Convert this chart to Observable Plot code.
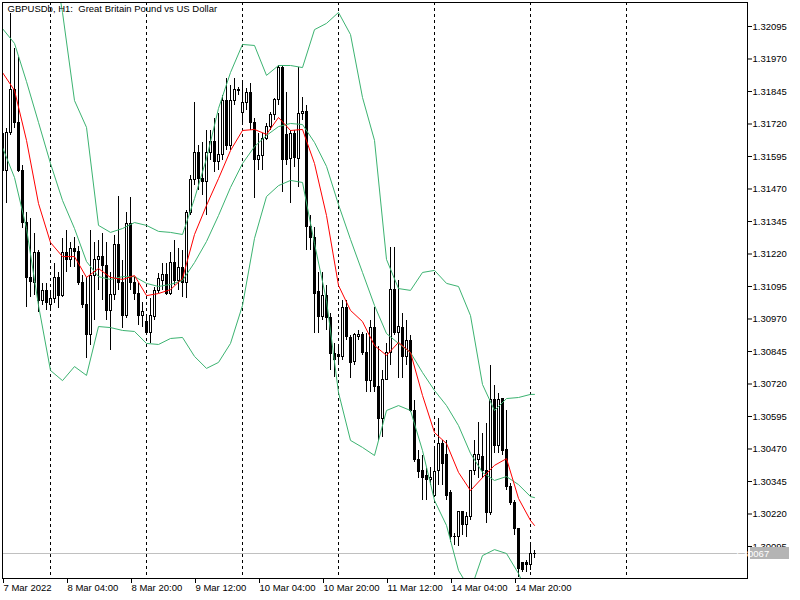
<!DOCTYPE html>
<html><head><meta charset="utf-8">
<script src="https://cdn.jsdelivr.net/npm/d3@7"></script>
<script src="https://cdn.jsdelivr.net/npm/@observablehq/plot@0.6"></script>
<style>
body{margin:0;background:#fff;}
#chart svg{display:block;}
</style></head><body><div id="chart"></div>
<script>
const title = "GBPUSDb, H1:  Great Britain Pound vs US Dollar";
const lastPrice = 1.30067;

// hourly bars (index 0 = 7 Mar 2022 12:00; weekend removed)
const open = [
1.31683,1.31541,1.31687,1.31849,1.31722,1.31541,1.31341,1.31126,1.31110,1.31222,
1.31041,1.31076,1.31022,1.31045,1.31126,1.31060,1.31222,1.31195,1.31241,1.31226,
1.31107,1.31022,1.30907,1.31137,1.31195,1.31210,1.31172,1.30999,1.31064,1.31253,
1.31107,1.30983,1.31337,1.31107,1.31068,1.30983,1.30957,1.30918,1.30976,1.31076,
1.31118,1.31141,1.31068,1.31187,1.31118,1.31168,1.31110,1.31376,1.31503,1.31610,
1.31510,1.31495,1.31607,1.31649,1.31572,1.31599,1.31810,1.31637,1.31810,1.31849,
1.31764,1.31799,1.31841,1.31722,1.31580,1.31595,1.31664,1.31707,1.31753,1.31814,
1.31937,1.31676,1.31587,1.31680,1.31587,1.31760,1.31768,1.31322,1.31283,1.31072,
1.30976,1.31060,1.30972,1.30837,1.30830,1.30822,1.31014,1.30895,1.30803,1.30899,
1.30907,1.30841,1.30733,1.30937,1.30707,1.30587,1.30737,1.30841,1.31080,1.30918,
1.30937,1.30822,1.30887,1.30618,1.30426,1.30387,1.30368,1.30349,1.30291,1.30387,
1.30491,1.30445,1.30299,1.30133,1.30130,1.30226,1.30176,1.30207,1.30387,1.30426,
1.30441,1.30387,1.30222,1.30657,1.30483,1.30664,1.30468,1.30322,1.30264,1.30164,
1.30030,1.30033,1.30022,1.30068];
const high = [
1.31733,1.31703,1.32145,1.32010,1.31976,1.31560,1.31380,1.31357,1.31299,1.31233,
1.31107,1.31107,1.31068,1.31183,1.31149,1.31280,1.31310,1.31264,1.31283,1.31249,
1.31137,1.31130,1.31310,1.31264,1.31272,1.31299,1.31264,1.31149,1.31291,1.31441,
1.31195,1.31380,1.31437,1.31130,1.31107,1.31033,1.30976,1.31049,1.31091,1.31145,
1.31183,1.31183,1.31226,1.31272,1.31241,1.31233,1.31387,1.31522,1.31803,1.31637,
1.31649,1.31695,1.31695,1.31741,1.31760,1.31830,1.31895,1.31868,1.31895,1.31860,
1.31876,1.31857,1.31876,1.31741,1.31683,1.31683,1.31722,1.31764,1.31818,1.31945,
1.31945,1.31841,1.31695,1.31695,1.31937,1.31822,1.31791,1.31368,1.31322,1.31149,
1.31149,1.31099,1.30991,1.30876,1.30868,1.31041,1.31041,1.30907,1.30914,1.30926,
1.30918,1.30914,1.30964,1.31014,1.30864,1.30772,1.30876,1.31245,1.31245,1.31118,
1.30991,1.30964,1.30907,1.30657,1.30464,1.30445,1.30395,1.30399,1.30480,1.30587,
1.30503,1.30503,1.30310,1.30145,1.30226,1.30226,1.30226,1.30387,1.30503,1.30572,
1.30530,1.30568,1.30791,1.30714,1.30683,1.30664,1.30618,1.30337,1.30272,1.30164,
1.30030,1.30041,1.30110,1.30080];
const low = [
1.31533,1.31414,1.31676,1.31703,1.31533,1.31318,1.31014,1.31053,1.31060,1.30995,
1.31022,1.31003,1.31010,1.31030,1.31010,1.31053,1.31149,1.31168,1.31168,1.31099,
1.31010,1.30818,1.30868,1.30964,1.31080,1.31041,1.30964,1.30849,1.31041,1.31080,
1.30933,1.30972,1.31080,1.31041,1.30945,1.30937,1.30907,1.30876,1.30964,1.31068,
1.31080,1.31060,1.31060,1.31099,1.31080,1.31053,1.31049,1.31368,1.31483,1.31464,
1.31445,1.31368,1.31580,1.31533,1.31541,1.31580,1.31618,1.31618,1.31791,1.31830,
1.31714,1.31772,1.31695,1.31433,1.31541,1.31541,1.31657,1.31695,1.31733,1.31791,
1.31457,1.31560,1.31414,1.31553,1.31476,1.31733,1.31233,1.31233,1.30914,1.30914,
1.30964,1.30926,1.30772,1.30745,1.30803,1.30810,1.30887,1.30741,1.30791,1.30887,
1.30830,1.30687,1.30687,1.30687,1.30503,1.30514,1.30733,1.30791,1.30907,1.30741,
1.30741,1.30791,1.30610,1.30418,1.30357,1.30272,1.30272,1.30330,1.30283,1.30330,
1.30330,1.30272,1.30110,1.30099,1.30095,1.30137,1.30130,1.30195,1.30368,1.30357,
1.30357,1.30183,1.30214,1.30453,1.30453,1.30445,1.30310,1.30253,1.30137,1.29975,
1.29995,1.29995,1.30003,1.30049];
const close = [
1.31541,1.31687,1.31849,1.31722,1.31541,1.31341,1.31126,1.31114,1.31222,1.31041,
1.31076,1.31030,1.31045,1.31126,1.31060,1.31222,1.31195,1.31241,1.31226,1.31107,
1.31022,1.30907,1.31137,1.31195,1.31210,1.31172,1.30999,1.31064,1.31253,1.31107,
1.30983,1.31337,1.31107,1.31068,1.30983,1.30995,1.30918,1.30980,1.31076,1.31122,
1.31141,1.31068,1.31187,1.31118,1.31168,1.31110,1.31376,1.31503,1.31610,1.31510,
1.31495,1.31607,1.31649,1.31572,1.31599,1.31810,1.31637,1.31810,1.31849,1.31845,
1.31799,1.31841,1.31722,1.31580,1.31595,1.31664,1.31707,1.31753,1.31814,1.31937,
1.31580,1.31580,1.31680,1.31591,1.31760,1.31768,1.31322,1.31283,1.31068,1.30976,
1.31060,1.30972,1.30837,1.30814,1.30822,1.31014,1.30899,1.30799,1.30907,1.30907,
1.30841,1.30733,1.30937,1.30707,1.30587,1.30737,1.30841,1.31080,1.30918,1.30941,
1.30822,1.30887,1.30618,1.30426,1.30380,1.30360,1.30349,1.30360,1.30383,1.30491,
1.30414,1.30291,1.30130,1.30130,1.30226,1.30176,1.30207,1.30387,1.30445,1.30445,
1.30387,1.30222,1.30657,1.30483,1.30657,1.30464,1.30322,1.30264,1.30164,1.30010,
1.30003,1.30022,1.30068,1.30067];

// indicator readings (every 3rd bar)
const bandBars = [0,3,6,9,12,15,18,21,24,27,30,33,36,39,42,45,48,51,54,57,60,63,66,69,72,75,78,81,84,87,90,93,96,99,102,105,108,111,114,117,120,123,126,129,132,133];
const upper = [null,null,null,null,1.32426,1.32149,1.31810,1.31707,1.31330,1.31303,
1.31318,1.31341,1.31330,1.31307,1.31303,1.31295,1.31433,1.31587,1.31780,1.31918,
1.32026,1.32022,1.31907,1.31945,1.31945,1.31937,1.32083,1.32107,1.32149,1.32064,
1.31822,1.31657,1.31199,1.31087,1.31080,1.31149,1.31157,1.31107,1.31095,1.30983,
1.30718,1.30618,1.30664,1.30668,1.30680,1.30680];
const middle = [1.32087,1.32030,1.31883,1.31726,1.31568,1.31426,1.31318,1.31191,1.31133,1.31122,
1.31133,1.31133,1.31107,1.31095,1.31103,1.31118,1.31187,1.31268,1.31368,1.31476,
1.31568,1.31633,1.31676,1.31710,1.31722,1.31718,1.31649,1.31557,1.31410,1.31276,
1.31149,1.31022,1.30914,1.30876,1.30841,1.30764,1.30695,1.30637,1.30560,1.30453,
1.30380,1.30349,1.30364,1.30333,1.30287,1.30283];
const lower = [1.31630,1.31514,1.31318,1.31022,1.30772,1.30733,1.30787,1.30753,1.30941,1.30937,
1.30926,1.30922,1.30876,1.30872,1.30895,1.30899,1.30826,1.30780,1.30803,1.30876,
1.31022,1.31280,1.31441,1.31483,1.31503,1.31495,1.31260,1.31041,1.30687,1.30503,
1.30476,1.30445,1.30618,1.30637,1.30618,1.30464,1.30272,1.30176,1.30003,1.29926,
1.30060,1.30083,1.30068,1.29991,1.29887,1.29857];
const ma = [1.31918,1.31849,1.31657,1.31414,1.31264,1.31210,1.31210,1.31130,1.31164,1.31130,
1.31122,1.31137,1.31060,1.31068,1.31083,1.31126,1.31295,1.31407,1.31510,1.31618,
1.31695,1.31699,1.31680,1.31745,1.31695,1.31699,1.31568,1.31368,1.31099,1.31003,
1.30960,1.30868,1.30830,1.30880,1.30841,1.30676,1.30533,1.30491,1.30380,1.30310,
1.30360,1.30407,1.30433,1.30280,1.30195,1.30176];

const yTicks = [1.32095,1.31970,1.31845,1.31720,1.31595,1.31470,1.31345,1.31220,1.31095,1.30970,1.30845,1.30720,1.30595,1.30470,1.30345,1.30220,1.30095];
const xTickBars = [0,16,32,48,64,80,96,112,128];
const xTickLabels = ["7 Mar 2022","8 Mar 04:00","8 Mar 20:00","9 Mar 12:00","10 Mar 04:00","10 Mar 20:00","11 Mar 12:00","14 Mar 04:00","14 Mar 20:00"];
const separatorBars = [12,36,60,84,108,132,156];

const candles = open.map((o,i)=>({i, o, h: high[i], l: low[i], c: close[i]}));
const bands = bandBars.map((b,k)=>({b, upper: upper[k], middle: middle[k], lower: lower[k], ma: ma[k]}));

const FONT = "'Liberation Sans', Arial, sans-serif";
const GREEN = "#3cb371";
const crisp = {shapeRendering: "crispEdges"};
const chart = Plot.plot({
  width: 800, height: 600,
  marginLeft: 2, marginRight: 53, marginTop: 2, marginBottom: 22,
  style: {fontFamily: FONT, fontSize: "9.5px", background: "white", color: "black"},
  x: {type: "linear", domain: [0, 186.25], axis: null},
  y: {domain: [1.299719, 1.321873], axis: null},
  marks: [
    Plot.ruleX(separatorBars, {stroke: "black", strokeDasharray: "3,3", ...crisp}),
    Plot.ruleY([lastPrice], {stroke: "#c0c0c0", ...crisp}),
    Plot.ruleX(candles, {x: "i", y1: "l", y2: "h", stroke: "black", clip: true, ...crisp}),
    Plot.rect(candles, {x1: d => d.i - 0.25, x2: d => d.i + 0.25, y1: "o", y2: "c",
      fill: d => d.c >= d.o ? "white" : "black", stroke: "black", clip: true, ...crisp}),
    Plot.line(bands, {x: "b", y: "upper", stroke: GREEN, strokeWidth: 1, clip: true}),
    Plot.line(bands, {x: "b", y: "middle", stroke: GREEN, strokeWidth: 1, clip: true}),
    Plot.line(bands, {x: "b", y: "lower", stroke: GREEN, strokeWidth: 1, clip: true}),
    Plot.line(bands, {x: "b", y: "ma", stroke: "#ff0000", strokeWidth: 1, clip: true}),
    Plot.frame({stroke: "black", ...crisp}),
    Plot.text([title], {frameAnchor: "top-left", dx: 5, dy: 3, lineAnchor: "top", textAnchor: "start", text: d => d, fill: "black"}),
    Plot.axisY({anchor: "right", ticks: yTicks, tickFormat: d3.format(".5f"), tickSize: 4, tickPadding: 1}),
    Plot.axisX({anchor: "bottom", ticks: xTickBars, tickFormat: d => xTickLabels[xTickBars.indexOf(d)], tickSize: 5, tickPadding: 1, textAnchor: "start", dx: 1})
  ]
});
document.getElementById("chart").appendChild(chart);

// last price tag on the right axis, drawn over the axis labels
const svg = d3.select(chart);
const yy = Math.round(chart.scale("y").apply(lastPrice));
const g = svg.append("g");
g.append("rect").attr("x", 750).attr("y", yy - 6).attr("width", 39).attr("height", 12)
  .attr("fill", "#b4b4b4").attr("shape-rendering", "crispEdges");
g.append("text").attr("x", 752).attr("y", yy + 3.5).attr("fill", "white")
  .attr("font-family", FONT).attr("font-size", "9.5px").text(d3.format(".5f")(lastPrice));
</script></body></html>
